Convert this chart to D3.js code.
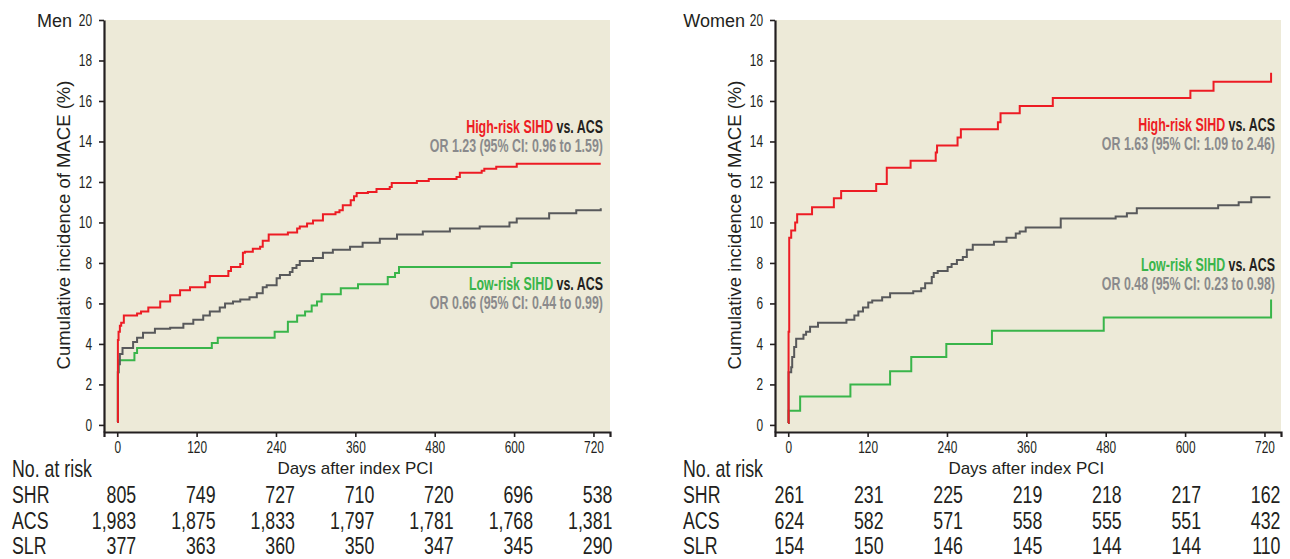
<!DOCTYPE html>
<html>
<head>
<meta charset="utf-8">
<script src="https://cdn.jsdelivr.net/npm/d3@7"></script>
<style>
  body { margin: 0; background: #fff; }
  svg { display: block; }
</style>
</head>
<body>
<div id="chart"></div>
<script>
// size of the whole picture
var chart_width = 1290;
var chart_height = 559;

// x / y ticks
var xTicks = [0, 120, 240, 360, 480, 600, 720];
var yTicks = [0, 2, 4, 6, 8, 10, 12, 14, 16, 18, 20];

// curves, [day, cumulative %]
var menHigh = [[0,0.15],[1,4.2],[2,4.6],[4,4.9],[6,5.05],[10,5.4],[30,5.5],[36,5.6],[47,5.8],[65,6.1],
  [80,6.4],[95,6.65],[110,6.8],[133,7.05],[140,7.35],[168,7.6],[172,7.8],[186,7.95],[190,8.5],[193,8.55],
  [205,8.7],[216,8.8],[220,9.1],[229,9.4],[258,9.5],[272,9.7],[276,9.8],[287,9.95],[296,10.1],[311,10.4],
  [330,10.5],[336,10.6],[341,10.85],[353,11.1],[358,11.3],[362,11.45],[379,11.5],[392,11.65],[412,11.75],
  [415,11.95],[453,12.05],[471,12.15],[513,12.25],[518,12.45],[551,12.55],[555,12.65],[573,12.75],
  [604,12.9],[731,12.9]];
var menAcs = [[0,0.15],[1,2.6],[2,3.0],[4,3.5],[8,3.8],[24,4.1],[30,4.3],[39,4.55],[57,4.75],[80,4.8],
  [100,5.0],[115,5.2],[130,5.4],[140,5.6],[155,5.8],[163,6.0],[175,6.1],[186,6.2],[200,6.3],[211,6.5],
  [220,6.8],[226,6.9],[241,7.25],[246,7.4],[261,7.55],[265,7.75],[271,7.9],[276,8.1],[296,8.25],[311,8.5],
  [326,8.65],[352,8.8],[371,9.0],[397,9.2],[423,9.4],[462,9.55],[503,9.7],[548,9.8],[593,10.0],[604,10.2],
  [653,10.45],[694,10.6],[731,10.7]];
var menLow = [[0,0.15],[1,2.6],[2,3.2],[26,3.55],[30,3.8],[143,4.05],[152,4.3],[238,4.6],[258,5.1],
  [272,5.4],[284,5.6],[294,5.9],[302,6.1],[309,6.45],[338,6.75],[364,6.95],[409,7.3],[420,7.5],[426,7.8],
  [596,8.0],[731,8.0]];

var womenHigh = [[0,0.1],[0.5,4.6],[1.5,9.25],[4.5,9.6],[10.5,10.0],[13.5,10.4],[36,10.75],[69,11.2],
  [80,11.55],[133,11.9],[149,12.7],[185,13.05],[223,13.45],[225,13.8],[256,14.2],[261,14.6],[317,14.95],
  [321,15.4],[350,15.75],[400,16.15],[608,16.5],[643,16.95],[730,17.4]];
var womenAcs = [[0,0.1],[0.5,2.6],[4.5,2.85],[6,3.35],[9,3.85],[12,4.25],[23,4.45],[27,4.6],[33,4.85],
  [45,5.05],[88,5.2],[100,5.4],[106,5.6],[113,5.8],[121,6.05],[127,6.15],[142,6.3],[154,6.5],[189,6.6],
  [201,6.75],[207,7.0],[217,7.3],[220,7.5],[226,7.6],[241,7.8],[247,7.95],[255,8.15],[264,8.3],[270,8.65],
  [279,8.9],[311,9.05],[330,9.25],[344,9.45],[350,9.55],[359,9.75],[412,10.2],[495,10.3],[512,10.45],
  [527,10.7],[650,10.85],[681,11.0],[700,11.25],[729,11.25]];
var womenLow = [[0,0.1],[0.5,0.7],[18,1.4],[94,2.0],[154,2.65],[186,3.35],[239,4.0],[308,4.65],
  [477,5.3],[730,6.2]];

// numbers at risk
var riskGroups = ['SHR', 'ACS', 'SLR'];
var menRisk = [[805,749,727,710,720,696,538],
               [1983,1875,1833,1797,1781,1768,1381],
               [377,363,360,350,347,345,290]];
var womenRisk = [[261,231,225,219,218,217,162],
                 [624,582,571,558,555,551,432],
                 [154,150,146,145,144,144,110]];

// odds ratio notes
var menNotes = ['OR 1.23 (95% CI: 0.96 to 1.59)', 'OR 0.66 (95% CI: 0.44 to 0.99)'];
var womenNotes = ['OR 1.63 (95% CI: 1.09 to 2.46)', 'OR 0.48 (95% CI: 0.23 to 0.98)'];

var red = '#ed1c24', gray = '#58595b', green = '#39b54a', ink = '#231f20', noteGray = '#8a8a8c';
var font = "'Liberation Sans', Arial, sans-serif";

var svg = d3.select('#chart')
            .append('svg')
            .attr('width', chart_width)
            .attr('height', chart_height);

var fmt = d3.format(',');

// the original uses a very condensed face; squash Liberation Sans sideways instead
function squashed(parent, x, y, k){
    return parent.append('g')
                 .attr('transform', 'translate(' + x + ',' + y + ') scale(' + k + ',1)')
                 .append('text')
                 .style('font-family', font)
                 .attr('fill', ink);
}

function draw_panel(p){
    var x = d3.scaleLinear().domain([-20, 745]).range([p.left, p.left + 506]);
    var y = d3.scaleLinear().domain([-0.35, 20]).range([432, 20]);

    svg.append('rect')
       .attr('x', x.range()[0]).attr('y', 20)
       .attr('width', x.range()[1] - x.range()[0])
       .attr('height', 412)
       .attr('fill', '#edead8');

    var line = d3.line()
                 .curve(d3.curveStepAfter)
                 .x(function(d){ return x(d[0]); })
                 .y(function(d){ return y(d[1]); });

    [[p.low, green], [p.acs, gray], [p.high, red]].forEach(function(s){
        svg.append('path')
           .attr('d', line(s[0]))
           .attr('fill', 'none')
           .attr('stroke', s[1])
           .attr('stroke-width', 2);
    });

    // axes
    var gy = svg.append('g')
                .attr('transform', 'translate(' + x.range()[0] + ',0)')
                .call(d3.axisLeft(y).tickValues(yTicks).tickSize(5).tickSizeOuter(0).tickPadding(7));
    var gx = svg.append('g')
                .attr('transform', 'translate(0,432)')
                .call(d3.axisBottom(x).tickValues(xTicks).tickSize(5).tickSizeOuter(5).tickPadding(4));
    [gx, gy].forEach(function(g){
        g.select('.domain').attr('stroke', ink).attr('stroke-width', 2.2);
        g.selectAll('.tick line').attr('stroke', ink).attr('stroke-width', 1.6);
        g.selectAll('.tick text')
         .attr('fill', ink)
         .style('font-family', font)
         .style('font-size', '16.5px')
         .each(function(){
             var t = d3.select(this);
             t.attr('x', (+t.attr('x') || 0) / 0.72).attr('transform', 'scale(0.72,1)');
         });
    });

    // titles
    svg.append('text')
       .attr('x', p.labelRight).attr('y', 27)
       .attr('text-anchor', 'end')
       .style('font-family', font).style('font-size', '18px')
       .attr('fill', ink)
       .text(p.name);

    svg.append('text')
       .attr('transform', 'translate(' + p.yTitleX + ',225) rotate(-90)')
       .attr('text-anchor', 'middle')
       .style('font-family', font).style('font-size', '18.5px')
       .attr('fill', ink)
       .text('Cumulative incidence of MACE (%)');

    svg.append('text')
       .attr('x', x(360)).attr('y', 474)
       .attr('text-anchor', 'middle')
       .style('font-family', font).style('font-size', '17px')
       .attr('fill', ink)
       .text('Days after index PCI');

    // notes
    function note(yb, first, color, or){
        var t = squashed(svg, p.noteRight, yb, 0.69)
                   .attr('text-anchor', 'end')
                   .style('font-size', '18px').style('font-weight', 'bold');
        t.append('tspan').attr('fill', color).text(first);
        t.append('tspan').attr('fill', ink).text(' vs. ACS');
        squashed(svg, p.noteRight, yb + 19, 0.69)
           .attr('text-anchor', 'end')
           .style('font-size', '18px').style('font-weight', 'bold')
           .attr('fill', noteGray)
           .text(or);
    }
    note(p.highY, 'High-risk SIHD', red, p.notes[0]);
    note(p.lowY, 'Low-risk SIHD', green, p.notes[1]);

    // numbers at risk
    squashed(svg, p.tableLeft, 477, 0.74)
       .style('font-size', '24px')
       .text('No. at risk');

    riskGroups.forEach(function(g, i){
        var yb = 503 + i * 25.5;
        squashed(svg, p.tableLeft, yb, 0.74)
           .style('font-size', '24px')
           .text(g);
        p.risk[i].forEach(function(d, j){
            squashed(svg, x(xTicks[j]) + p.tableShift, yb, 0.74)
               .attr('text-anchor', 'end')
               .style('font-size', '24px')
               .text(fmt(d));
        });
    });
}

draw_panel({name: 'Men', left: 104, labelRight: 72, yTitleX: 70, noteRight: 603, highY: 133, lowY: 290,
            notes: menNotes, high: menHigh, acs: menAcs, low: menLow,
            risk: menRisk, tableLeft: 12, tableShift: 19});
draw_panel({name: 'Women', left: 775, labelRight: 745, yTitleX: 741, noteRight: 1275, highY: 131, lowY: 271,
            notes: womenNotes, high: womenHigh, acs: womenAcs, low: womenLow,
            risk: womenRisk, tableLeft: 683, tableShift: 16});
</script>
</body>
</html>
